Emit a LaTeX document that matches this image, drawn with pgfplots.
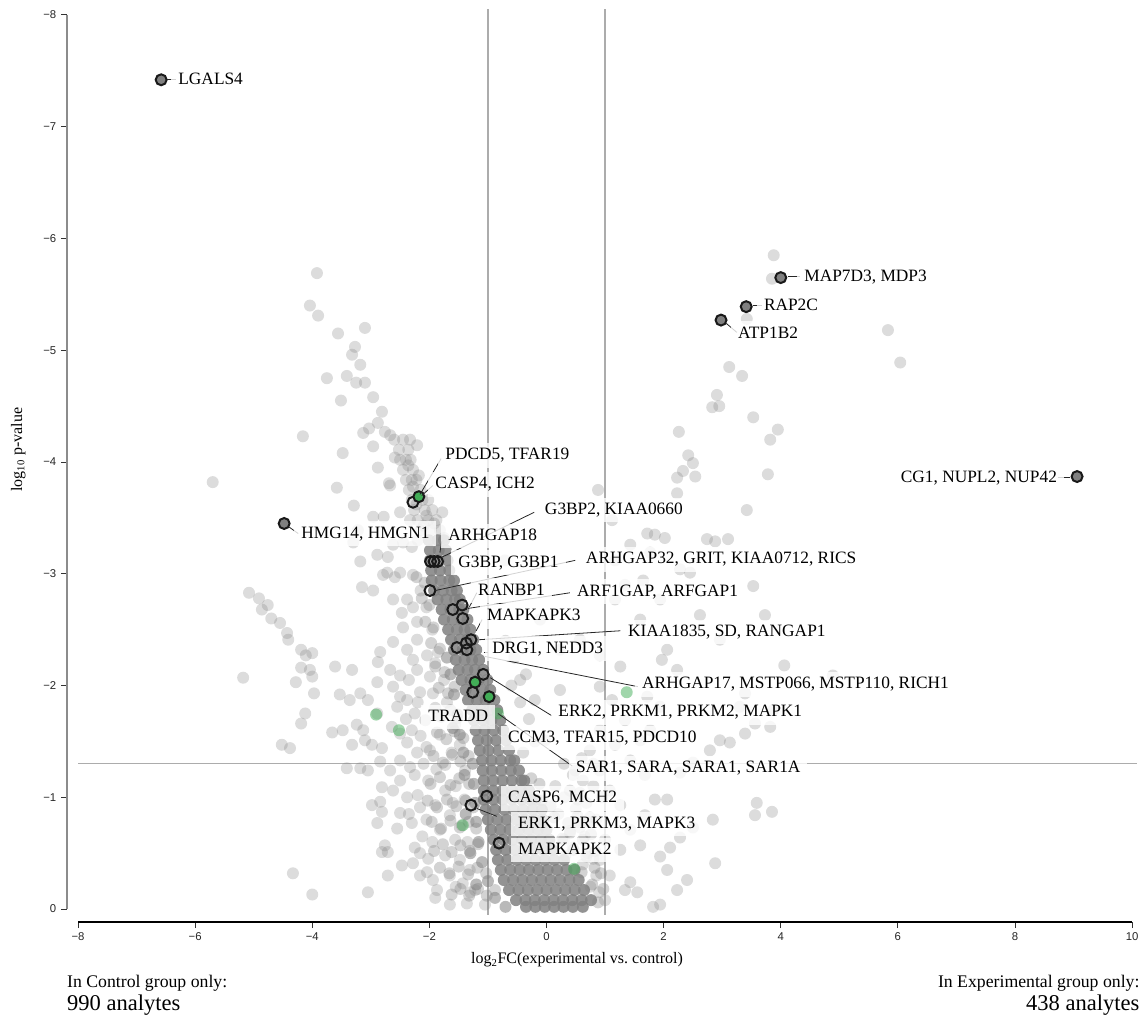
\documentclass[border=0pt]{standalone}
\usepackage{fontspec}
\setmainfont{Liberation Serif}
\newfontfamily\axisfont{Liberation Sans}
\usepackage{pgfplots}
\pgfplotsset{compat=1.18}

\definecolor{dotgrey}{RGB}{128,128,128}
\definecolor{hitgreen}{RGB}{66,173,87}
\definecolor{refline}{RGB}{172,172,172}
\definecolor{ringblack}{RGB}{25,25,25}

\tikzset{
  genelabel/.style={fill=white, fill opacity=0.8, text opacity=1, inner xsep=5.25pt,
    inner ysep=3pt, text height=9.6pt, text depth=2.8pt, anchor=west,
    font=\fontsize{13}{15}\selectfont},
  leader/.style={draw=black!85, line width=0.6pt},
}
\pgfplotsset{
  cloud/.style={only marks, mark=*, mark size=4.5pt,
    mark options={draw opacity=0, fill=dotgrey, fill opacity=#1}},
}

\begin{document}
\begin{tikzpicture}
\begin{axis}[
  set layers,
  scale only axis, width=790.5pt, height=670.5pt,
  xmin=-8, xmax=10, ymin=-8, ymax=0, y dir=reverse,
  axis x line*=bottom, axis y line*=left,
  axis x line shift=9.75pt, axis y line shift=8.25pt,
  x axis line style={-, black, line width=1.5pt},
  y axis line style={-, draw=black!45, line width=1.1pt},
  xtick={-8,-6,...,10}, ytick={-8,-7,...,0},
  xticklabels={−8,−6,−4,−2,0,2,4,6,8,10},
  yticklabels={−8,−7,−6,−5,−4,−3,−2,−1,0},
  tick align=outside, major tick length=4.5pt,
  tick style={black!80, line width=0.75pt},
  ticklabel style={font=\axisfont\fontsize{8.5}{10}\selectfont, text=black!85},
  clip=false,
]

% ---- background analytes: sparse cloud
\addplot[cloud=0.28] coordinates {
(-3.92,-5.69) (-4.04,-5.40) (-3.90,-5.31) (-3.56,-5.15) (-3.10,-5.20) (-3.27,-5.03) (-3.32,-4.96) (-3.18,-4.87) (-3.75,-4.75) (-3.41,-4.77) (-3.25,-4.71) (-3.10,-4.71) (-2.96,-4.58) (-3.51,-4.55) (-2.81,-4.45) (-2.88,-4.35) (-3.13,-4.26) (-3.03,-4.30) (-2.76,-4.27) (-2.67,-4.24) (-2.33,-4.20) (-2.21,-4.15) (-4.16,-4.23) (-2.96,-4.14) (-3.48,-4.08) (-2.88,-3.95) (-3.58,-3.77) (-2.67,-3.79) (-5.70,-3.82) (-2.59,-4.04) (-2.69,-3.81) (-3.29,-3.61) (-2.50,-3.55) (-1.78,-3.55) (-2.96,-3.51) (-3.22,-3.39) (-3.30,-3.28) (-2.78,-3.51) (-2.33,-3.48) (-2.62,-3.26) (-2.45,-3.28) (-2.30,-3.24) (-3.18,-3.11) (-2.89,-3.17) (-2.71,-3.15) (-2.72,-3.01) (-2.59,-2.97) (-3.15,-2.88) (-2.96,-2.85) (-2.79,-2.99) (-2.50,-3.01) (-2.28,-2.99) (-2.38,-2.77) (-2.62,-2.77) (-2.47,-2.65) (-2.28,-2.70) (-2.45,-2.52) (-2.21,-2.57) (-2.62,-2.39) (-2.38,-2.32) (-2.21,-2.41) (-2.28,-2.23) (-2.04,-2.27) (-2.21,-2.14) (-1.99,-2.08) (-2.16,-1.94) (-1.94,-1.93)
(-5.08,-2.83) (-4.91,-2.78) (-4.76,-2.72) (-4.86,-2.68) (-4.70,-2.60) (-4.55,-2.56) (-4.43,-2.47) (-4.41,-2.41) (-4.19,-2.32) (-4.11,-2.27) (-4.00,-2.29) (-4.19,-2.16) (-4.04,-2.14) (-4.00,-2.08) (-5.18,-2.07) (-4.28,-2.03) (-3.97,-1.93) (-3.61,-2.17) (-3.32,-2.14) (-4.12,-1.75) (-4.19,-1.66) (-4.52,-1.47) (-4.38,-1.44) (-4.33,-0.32) (-4.00,-0.13)
(-2.84,-2.30) (-2.88,-2.21) (-2.67,-2.14) (-2.89,-2.03) (-2.50,-2.09) (-2.62,-1.99) (-2.50,-1.90) (-3.53,-1.92) (-3.36,-1.87) (-3.18,-1.93) (-3.05,-1.87) (-2.89,-1.75) (-2.55,-1.81) (-2.38,-1.87) (-2.25,-1.75) (-3.66,-1.58) (-3.48,-1.60) (-3.24,-1.65) (-3.13,-1.60) (-3.10,-1.51) (-3.32,-1.47) (-2.98,-1.47) (-2.81,-1.44) (-2.64,-1.63) (-2.50,-1.57) (-2.38,-1.49) (-2.21,-1.40) (-3.41,-1.26) (-3.18,-1.26) (-3.05,-1.24) (-2.84,-1.32) (-2.67,-1.24) (-2.50,-1.33) (-2.33,-1.27) (-2.81,-1.09) (-2.62,-1.06) (-2.50,-1.15) (-2.38,-1.00) (-2.98,-0.93) (-2.81,-0.87) (-2.84,-0.96) (-2.50,-0.86) (-2.30,-0.77) (-2.89,-0.77) (-2.55,-0.72) (-2.16,-0.91) (-2.76,-0.57) (-2.81,-0.51) (-2.71,-0.51) (-2.47,-0.39) (-2.28,-0.41) (-2.16,-0.50) (-2.04,-0.33) (-2.16,-0.30) (-1.94,-0.26) (-2.71,-0.30) (-3.05,-0.15) (-1.87,-0.17) (-1.65,-0.04) (-1.43,-0.23) (-1.36,-0.05)
(-2.07,-1.69) (-1.82,-1.56) (-1.99,-1.42) (-1.73,-1.29) (-2.02,-1.15) (-1.73,-1.06) (-1.90,-0.93) (-1.65,-0.84) (-1.82,-0.71) (-1.56,-0.62) (-1.73,-0.48) (-1.48,-0.44) (-1.65,-0.30) (-1.31,-0.35) (-1.22,-0.17) (-1.05,-0.04) (-1.56,-1.65) (-1.48,-1.47) (-1.39,-1.24)
(-1.90,-1.80) (-1.70,-1.85) (-1.62,-1.40) (-1.88,-1.25) (-1.55,-1.10) (-1.40,-0.98) (-1.60,-0.95) (-1.45,-0.75) (-1.35,-0.60) (-1.55,-0.20) (-1.30,-0.15) (-1.95,-0.60) (-2.05,-0.80) (-1.75,-2.05) (-1.85,-2.30) (-1.95,-2.50) (-2.05,-2.70) (-2.15,-2.85) (-1.90,-2.20)
(-2.60,-4.20) (-2.45,-4.20) (-2.52,-4.11) (-2.36,-4.11) (-2.50,-4.02) (-2.40,-4.02) (-2.32,-4.02) (-2.45,-3.93) (-2.28,-3.93) (-2.40,-3.84) (-2.30,-3.84) (-2.22,-3.84) (-2.35,-3.75) (-2.15,-3.75) (-2.30,-3.66) (-2.12,-3.66) (-2.02,-3.66) (-2.26,-3.57) (-2.08,-3.57) (-1.95,-3.57) (-2.20,-3.48) (-2.02,-3.48) (-1.88,-3.48) (-2.15,-3.39) (-1.98,-3.39) (-1.82,-3.39) (-2.22,-3.62) (-2.05,-3.52) (-2.10,-3.43) (-1.92,-3.45) (-2.28,-3.78) (-2.18,-3.88) (-2.36,-3.97) (-2.20,-3.30) (-1.75,-3.32)
(3.88,-5.85) (3.85,-5.64) (3.42,-5.28) (5.83,-5.18) (6.04,-4.89) (3.12,-4.85) (3.34,-4.77) (2.91,-4.60) (2.83,-4.49) (2.95,-4.50) (3.53,-4.40) (3.95,-4.29) (3.82,-4.20) (2.26,-4.27) (2.42,-4.06) (2.50,-3.99) (2.33,-3.92) (2.23,-3.86) (2.54,-3.87) (3.78,-3.89) (2.23,-3.72) (3.42,-3.57) (1.72,-3.36) (1.85,-3.35) (2.02,-3.32) (2.74,-3.31) (2.88,-3.29) (3.10,-3.31) (1.77,-3.19) (2.28,-3.04) (2.45,-3.01) (1.65,-2.94) (3.53,-2.89) (3.73,-2.63) (4.06,-2.18) (4.89,-2.09) (3.39,-1.93) (3.56,-1.66) (3.82,-1.63) (3.39,-1.57) (3.59,-0.95) (3.56,-0.84) (3.85,-0.87) (1.97,-2.23) (2.23,-2.14) (2.06,-2.32) (1.26,-2.17) (0.91,-1.99) (1.72,-1.90) (1.94,-1.81) (3.30,-1.81) (3.87,-1.78) (3.13,-1.49) (2.96,-1.51) (2.79,-1.42) (2.50,-1.31) (2.28,-1.22) (2.06,-0.98) (2.84,-0.80) (2.50,-0.73) (2.28,-0.64) (2.11,-0.55) (2.88,-0.41) (1.94,-0.47) (2.06,-0.35) (1.43,-0.24) (1.55,-0.15) (2.23,-0.17) (2.40,-0.26) (1.82,-0.02) (1.94,-0.04)
(1.17,-2.77) (1.60,-2.59) (1.94,-2.77) (2.62,-2.63) (2.96,-2.41)
(0.57,-1.04) (0.74,-0.82) (0.57,-0.73) (0.91,-1.24) (1.08,-1.06) (1.26,-0.93) (1.00,-0.62) (1.26,-0.53) (1.43,-0.71) (1.60,-0.57) (0.91,-0.44) (1.08,-0.30) (1.34,-0.17) (1.00,-0.08) (1.17,-1.47) (1.43,-1.33) (1.68,-1.20) (1.60,-1.51) (1.34,-1.69) (1.77,-1.60) (0.91,-1.60) (0.74,-1.42) (0.49,-1.24) (0.40,-1.06) (1.85,-0.98) (1.68,-0.84)
(0.30,-0.62) (0.45,-0.55) (0.40,-0.70) (0.55,-0.78) (0.50,-0.90) (0.65,-0.65) (0.70,-0.50) (0.62,-0.40) (0.80,-0.45) (0.85,-0.30) (0.75,-0.20) (0.90,-0.15) (0.68,-0.95) (0.80,-1.10) (0.62,-1.15) (0.95,-1.00) (0.85,-0.80) (0.20,-0.85) (0.30,-1.00) (0.15,-1.10) (0.45,-1.20) (0.60,-1.35) (0.30,-1.30) (0.80,-1.30)
(-0.71,-3.12) (-0.45,-2.85) (-0.11,-2.59) (0.23,-2.32) (0.57,-2.41) (0.91,-2.27) (1.12,-1.87) (0.23,-1.96) (-0.20,-1.87) (-0.45,-2.05) (-0.03,-1.51) (1.17,-3.12) (1.34,-2.90) (1.43,-3.26) (1.12,-3.48) (0.88,-3.75)
(-0.60,-2.00) (-0.45,-1.85) (-0.30,-1.70) (-0.55,-2.25) (-0.70,-2.40) (-0.35,-2.10) (-0.20,-1.50) (-0.40,-1.40)
(-2.35,-2.05) (-2.20,-1.85) (-2.30,-1.60) (-2.15,-1.55) (-2.25,-1.20) (-2.10,-1.30) (-2.20,-1.02) (-2.35,-0.85) (-2.12,-0.65) (-2.25,-0.55) (-2.02,-0.45) (-1.90,-0.10) (-2.40,-1.70) (-2.05,-1.45)
};

% ---- background analytes: crowded flanks of the volcano
\addplot[cloud=0.35] coordinates {
(-2.22,-2.97) (-2.08,-2.92)
(-2.13,-2.78) (-2.00,-2.72)
(-2.07,-2.57) (-1.93,-2.52)
(-1.97,-2.38) (-1.82,-2.33)
(-1.90,-2.17) (-1.74,-2.12)
(-1.84,-1.98) (-1.68,-1.93) (-1.57,-1.99)
(-1.80,-1.72) (-1.64,-1.78) (-1.52,-1.71)
(-1.87,-1.58) (-1.71,-1.52) (-1.57,-1.59) (-1.42,-1.53)
(-1.93,-1.37) (-1.77,-1.31) (-1.61,-1.38) (-1.47,-1.32) (-1.33,-1.37)
(-1.98,-1.12) (-1.82,-1.18) (-1.64,-1.11) (-1.49,-1.17) (-1.32,-1.12)
(-2.03,-0.97) (-1.87,-0.91) (-1.70,-0.98) (-1.54,-0.92) (-1.38,-0.97) (-1.25,-0.91)
(-1.96,-0.78) (-1.80,-0.72) (-1.64,-0.79) (-1.48,-0.73) (-1.33,-0.78) (-1.20,-0.72)
(-1.92,-0.52) (-1.77,-0.58) (-1.62,-0.51) (-1.47,-0.57) (-1.31,-0.52) (-1.17,-0.58)
(-1.82,-0.37) (-1.66,-0.32) (-1.50,-0.38) (-1.34,-0.31) (-1.18,-0.37) (-1.03,-0.32)
(-1.62,-0.13) (-1.47,-0.18) (-1.32,-0.12) (-1.17,-0.18) (-1.02,-0.12) (-0.88,-0.17)
(-0.26,-1.17) (-0.12,-1.12)
(-0.08,-0.97) (0.07,-0.92) (0.53,-0.98)
(0.13,-0.82) (0.37,-0.77) (0.53,-0.83) (0.72,-0.78)
(0.27,-0.63) (0.40,-0.68) (0.62,-0.62) (0.76,-0.67)
(0.32,-0.48) (0.46,-0.53) (0.68,-0.47) (0.83,-0.52)
(0.60,-0.33) (0.82,-0.37) (0.93,-0.32)
(0.78,-0.22) (0.97,-0.18)
(0.88,-0.06)
};

% ---- background analytes: edge of the dense core
\addplot[cloud=0.55] coordinates {
(-1.64,-2.10) (-1.58,-1.92) (-1.52,-1.74) (-1.48,-1.56) (-1.42,-1.40)
(-1.26,-1.30) (-1.24,-1.12) (-1.22,-0.95) (-1.20,-0.78) (-1.16,-0.60) (-1.10,-0.42) (-1.00,-0.25) (-0.88,-0.10) (-0.70,-0.02)
(-1.40,-1.20) (-1.38,-0.85) (-1.30,-0.50) (-1.20,-0.22) (-1.70,-2.25) (-1.60,-1.62)
};

% ---- background analytes: dense core of the volcano
\addplot[cloud=0.85] coordinates {
(-2.01,-3.30) (-1.86,-3.30) (-1.75,-3.30)
(-1.99,-3.21) (-1.84,-3.21) (-1.72,-3.21)
(-1.99,-3.12) (-1.84,-3.12) (-1.69,-3.12)
(-1.97,-3.03) (-1.82,-3.03) (-1.66,-3.03)
(-1.96,-2.94) (-1.81,-2.94) (-1.66,-2.94) (-1.58,-2.94)
(-1.92,-2.85) (-1.77,-2.85) (-1.62,-2.85) (-1.53,-2.85)
(-1.86,-2.77) (-1.71,-2.77) (-1.56,-2.77) (-1.48,-2.77)
(-1.79,-2.68) (-1.64,-2.68) (-1.49,-2.68) (-1.42,-2.68)
(-1.75,-2.59) (-1.60,-2.59) (-1.45,-2.59) (-1.35,-2.59)
(-1.68,-2.50) (-1.53,-2.50) (-1.40,-2.50) (-1.30,-2.50)
(-1.63,-2.41) (-1.48,-2.41) (-1.35,-2.41) (-1.25,-2.41)
(-1.58,-2.32) (-1.43,-2.32) (-1.30,-2.32) (-1.20,-2.32)
(-1.55,-2.23) (-1.40,-2.23) (-1.27,-2.23) (-1.15,-2.23)
(-1.50,-2.14) (-1.35,-2.14) (-1.22,-2.14) (-1.08,-2.14)
(-1.45,-2.05) (-1.30,-2.05) (-1.16,-2.05) (-1.01,-2.05)
(-1.38,-1.96) (-1.24,-1.96) (-1.10,-1.96) (-0.96,-1.96)
(-1.34,-1.87) (-1.19,-1.87) (-1.04,-1.87) (-0.89,-1.87)
(-1.27,-1.78) (-1.12,-1.78) (-0.98,-1.78) (-0.84,-1.78)
(-1.24,-1.69) (-1.09,-1.69) (-0.94,-1.69) (-0.79,-1.69)
(-1.21,-1.60) (-1.06,-1.60) (-0.90,-1.60) (-0.74,-1.60)
(-1.17,-1.51) (-1.02,-1.51) (-0.86,-1.51) (-0.69,-1.51)
(-1.14,-1.42) (-0.99,-1.42) (-0.82,-1.42) (-0.64,-1.42)
(-1.10,-1.33) (-0.94,-1.33) (-0.78,-1.33) (-0.62,-1.33) (-0.55,-1.33)
(-1.09,-1.24) (-0.93,-1.24) (-0.77,-1.24) (-0.61,-1.24) (-0.47,-1.24)
(-1.07,-1.15) (-0.91,-1.15) (-0.75,-1.15) (-0.59,-1.15) (-0.43,-1.15) (-0.38,-1.15)
(-1.07,-1.06) (-0.91,-1.06) (-0.75,-1.06) (-0.59,-1.06) (-0.44,-1.06) (-0.30,-1.06)
(-1.07,-0.98) (-0.91,-0.98) (-0.75,-0.98) (-0.59,-0.98) (-0.43,-0.98) (-0.28,-0.98) (-0.18,-0.98)
(-1.04,-0.89) (-0.88,-0.89) (-0.72,-0.89) (-0.56,-0.89) (-0.40,-0.89) (-0.24,-0.89) (-0.08,-0.89)
(-1.00,-0.80) (-0.84,-0.80) (-0.68,-0.80) (-0.52,-0.80) (-0.36,-0.80) (-0.20,-0.80) (-0.06,-0.80)
(-0.95,-0.71) (-0.79,-0.71) (-0.63,-0.71) (-0.47,-0.71) (-0.31,-0.71) (-0.15,-0.71) (0.00,-0.71)
(-0.90,-0.62) (-0.74,-0.62) (-0.58,-0.62) (-0.42,-0.62) (-0.26,-0.62) (-0.10,-0.62) (0.05,-0.62)
(-0.86,-0.53) (-0.70,-0.53) (-0.54,-0.53) (-0.38,-0.53) (-0.22,-0.53) (-0.06,-0.53) (0.10,-0.53)
(-0.83,-0.44) (-0.67,-0.44) (-0.51,-0.44) (-0.35,-0.44) (-0.19,-0.44) (-0.03,-0.44) (0.13,-0.44) (0.30,-0.44)
(-0.78,-0.35) (-0.62,-0.35) (-0.46,-0.35) (-0.30,-0.35) (-0.14,-0.35) (0.02,-0.35) (0.18,-0.35) (0.34,-0.35) (0.48,-0.35)
(-0.73,-0.26) (-0.57,-0.26) (-0.41,-0.26) (-0.25,-0.26) (-0.09,-0.26) (0.07,-0.26) (0.23,-0.26) (0.39,-0.26) (0.55,-0.26)
(-0.64,-0.17) (-0.48,-0.17) (-0.32,-0.17) (-0.16,-0.17) (0.00,-0.17) (0.16,-0.17) (0.32,-0.17) (0.48,-0.17) (0.64,-0.17)
(-0.52,-0.08) (-0.36,-0.08) (-0.20,-0.08) (-0.04,-0.08) (0.12,-0.08) (0.28,-0.08) (0.44,-0.08) (0.60,-0.08) (0.76,-0.08)
(-0.35,-0.02) (-0.19,-0.02) (-0.03,-0.02) (0.13,-0.02) (0.29,-0.02) (0.45,-0.02) (0.62,-0.02)
};

% ---- unlabelled members of the highlighted set
\addplot[only marks, mark=*, mark size=4.5pt,
  mark options={draw opacity=0, fill=hitgreen, fill opacity=0.5}] coordinates {
(-2.91,-1.74) (-2.52,-1.60) (-1.43,-0.75) (0.47,-0.36) (1.37,-1.94) (-0.83,-1.75)
};

% ---- significance thresholds
\addplot[refline, line width=1pt, forget plot] coordinates {(-1,-8.05) (-1,0.05)};
\addplot[refline, line width=1pt, forget plot] coordinates {(1,-8.05) (1,0.05)};
\addplot[refline, line width=0.8pt, forget plot] coordinates {(-8,-1.3) (10.09,-1.3)};

% ---- labelled analytes
\addplot[only marks, mark=*, mark size=4.1pt,
  mark options={draw=ringblack, fill=dotgrey, line width=1.5pt}] coordinates {
(-6.58,-7.42) (4.00,-5.65) (3.41,-5.39) (2.98,-5.27) (9.06,-3.87) (-4.48,-3.45)
};
\addplot[only marks, mark=o, mark size=4.1pt,
  mark options={draw=ringblack, line width=1.5pt}] coordinates {
(-2.28,-3.64) (-1.98,-3.11) (-1.92,-3.11) (-1.86,-3.11) (-1.99,-2.85)
(-1.60,-2.68) (-1.44,-2.72) (-1.43,-2.60)
(-1.53,-2.34) (-1.36,-2.32) (-1.29,-2.41) (-1.37,-2.38)
(-1.08,-2.10) (-1.26,-1.94)
(-1.02,-1.01) (-1.29,-0.93) (-0.81,-0.59)
};
\addplot[only marks, mark=*, mark size=4.1pt,
  mark options={draw=ringblack, fill=hitgreen, line width=1.5pt}] coordinates {
(-2.18,-3.69) (-1.22,-2.03) (-0.98,-1.90)
};

\begin{pgfonlayer}{axis foreground}
% ---- leader lines
\draw[leader] (axis cs:-6.48,-7.42) -- (axis cs:-6.33,-7.42);
\draw[leader] (axis cs:4.12,-5.66) -- (axis cs:4.33,-5.66);
\draw[leader] (axis cs:3.53,-5.40) -- (axis cs:3.68,-5.40);
\draw[leader] (axis cs:3.07,-5.24) -- (axis cs:3.25,-5.16);
\draw[leader] (axis cs:8.73,-3.86) -- (axis cs:8.94,-3.86);
\draw[leader] (axis cs:-4.40,-3.42) -- (axis cs:-4.24,-3.36);
\draw[leader] (axis cs:-2.16,-3.71) -- (axis cs:-1.80,-4.03);
\draw[leader] (axis cs:-2.13,-3.70) -- (axis cs:-1.94,-3.79);
\draw[leader] (axis cs:-1.78,-3.15) -- (axis cs:-0.21,-3.55);
\draw[leader] (axis cs:-1.82,-3.19) -- (axis cs:-1.79,-3.29);
\draw[leader] (axis cs:-1.90,-2.85) -- (axis cs:0.49,-3.12);
\draw[leader] (axis cs:-1.32,-2.70) -- (axis cs:-1.19,-2.83);
\draw[leader] (axis cs:-1.34,-2.69) -- (axis cs:0.40,-2.83);
\draw[leader] (axis cs:-1.20,-2.49) -- (axis cs:-1.10,-2.59);
\draw[leader] (axis cs:-1.15,-2.41) -- (axis cs:1.26,-2.49);
\draw[leader] (axis cs:-1.07,-2.30) -- (axis cs:-1.00,-2.30);
\draw[leader] (axis cs:-1.05,-2.26) -- (axis cs:1.56,-1.99);
\draw[leader] (axis cs:-0.96,-2.07) -- (axis cs:0.09,-1.73);
\draw[leader] (axis cs:-0.83,-1.75) -- (axis cs:0.44,-1.28);
\draw[leader] (axis cs:-1.19,-0.90) -- (axis cs:-0.85,-0.83);

% ---- gene labels
\node[genelabel] at (axis cs:-6.41,-7.42) {LGALS4};
\node[genelabel] at (axis cs:4.28,-5.66) {MAP7D3, MDP3};
\node[genelabel] at (axis cs:3.59,-5.40) {RAP2C};
\node[genelabel] at (axis cs:3.15,-5.15) {ATP1B2};
\node[genelabel, anchor=east] at (axis cs:8.84,-3.86) {CG1, NUPL2, NUP42};
\node[genelabel] at (axis cs:-4.31,-3.36) {HMG14, HMGN1};
\node[genelabel] at (axis cs:-1.85,-4.06) {PDCD5, TFAR19};
\node[genelabel] at (axis cs:-2.02,-3.80) {CASP4, ICH2};
\node[genelabel] at (axis cs:-0.15,-3.57) {G3BP2, KIAA0660};
\node[genelabel] at (axis cs:-1.80,-3.34) {ARHGAP18};
\node[genelabel] at (axis cs:-1.63,-3.10) {G3BP, G3BP1};
\node[genelabel] at (axis cs:0.55,-3.13) {ARHGAP32, GRIT, KIAA0712, RICS};
\node[genelabel] at (axis cs:-1.29,-2.85) {RANBP1};
\node[genelabel] at (axis cs:0.40,-2.84) {ARF1GAP, ARFGAP1};
\node[genelabel] at (axis cs:-1.14,-2.62) {MAPKAPK3};
\node[genelabel] at (axis cs:1.27,-2.48) {KIAA1835, SD, RANGAP1};
\node[genelabel] at (axis cs:-1.05,-2.33) {DRG1, NEDD3};
\node[genelabel] at (axis cs:1.51,-2.01) {ARHGAP17, MSTP066, MSTP110, RICH1};
\node[genelabel] at (axis cs:0.08,-1.76) {ERK2, PRKM1, PRKM2, MAPK1};
\node[genelabel] at (axis cs:-2.14,-1.72) {TRADD};
\node[genelabel] at (axis cs:-0.78,-1.53) {CCM3, TFAR15, PDCD10};
\node[genelabel] at (axis cs:0.38,-1.26) {SAR1, SARA, SARA1, SAR1A};
\node[genelabel] at (axis cs:-0.78,-0.99) {CASP6, MCH2};
\node[genelabel] at (axis cs:-0.61,-0.76) {ERK1, PRKM3, MAPK3};
\node[genelabel] at (axis cs:-0.61,-0.53) {MAPKAPK2};
\end{pgfonlayer}

% ---- axis titles and group counts
\node[font=\fontsize{12}{14}\selectfont] at (axis cs:0.52,0.456)
  {log\textsubscript{2}FC(experimental vs.\ control)};
\node[font=\fontsize{12}{14}\selectfont, rotate=90] at (axis cs:-9.02,-4.11)
  {log\textsubscript{10} p-value};
\node[anchor=west, inner sep=0pt, font=\fontsize{13.3}{15}\selectfont] at (axis cs:-8.19,0.662) {In Control group only:};
\node[anchor=west, inner sep=0pt, font=\fontsize{16.9}{19}\selectfont] at (axis cs:-8.19,0.859) {990 analytes};
\node[anchor=east, inner sep=0pt, font=\fontsize{13.3}{15}\selectfont] at (axis cs:10.13,0.662) {In Experimental group only:};
\node[anchor=east, inner sep=0pt, font=\fontsize{16.9}{19}\selectfont] at (axis cs:10.13,0.859) {438 analytes};

\coordinate (bbsw) at (axis cs:-9.332,0.993);
\coordinate (bbne) at (axis cs:10.237,-8.134);
\end{axis}
\pgfresetboundingbox
\useasboundingbox (bbsw) rectangle (bbne);
\end{tikzpicture}
\end{document}
